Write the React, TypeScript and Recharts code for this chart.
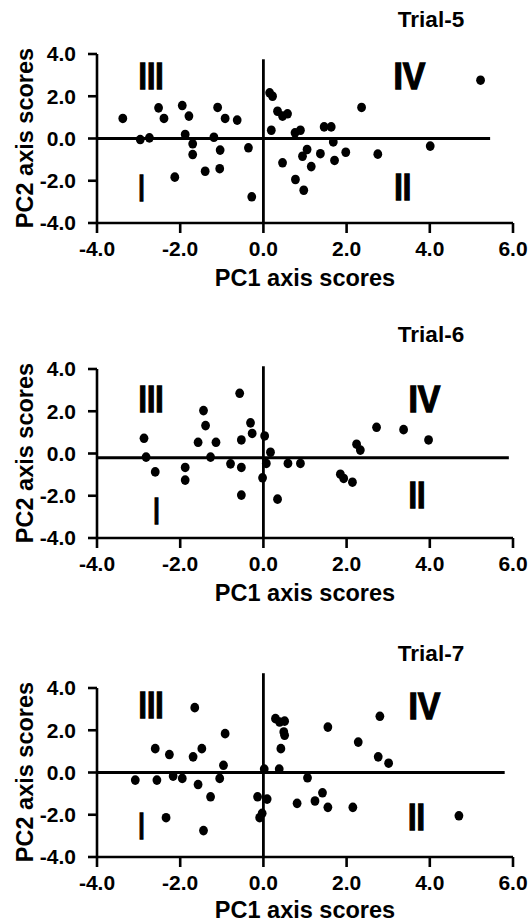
import React from 'react'
import { ScatterChart, Scatter, XAxis, YAxis, ReferenceLine, ReferenceDot } from 'recharts'

const xTicks = [-4, -2, 0, 2, 4, 6]
const yTicks = [-4, -2, 0, 2, 4]

const trial5 = [
  { x: -3.38, y: 0.95 }, { x: -2.96, y: -0.05 }, { x: -2.74, y: 0.03 }, { x: -2.52, y: 1.45 },
  { x: -2.39, y: 0.95 }, { x: -1.95, y: 1.56 }, { x: -1.79, y: 1.06 }, { x: -1.88, y: 0.19 },
  { x: -1.7, y: -0.25 }, { x: -1.7, y: -0.76 }, { x: -2.13, y: -1.83 }, { x: -1.4, y: -1.55 },
  { x: -1.1, y: 1.47 }, { x: -0.92, y: 0.95 }, { x: -1.19, y: 0.06 }, { x: -1.04, y: -0.55 },
  { x: -1.05, y: -1.43 }, { x: -0.63, y: 0.87 }, { x: -0.36, y: -0.44 }, { x: -0.28, y: -2.76 },
  { x: 0.15, y: 2.16 }, { x: 0.22, y: 2.0 }, { x: 0.34, y: 1.29 }, { x: 0.46, y: 1.06 },
  { x: 0.58, y: 1.17 }, { x: 0.19, y: 0.39 }, { x: 0.76, y: 0.27 }, { x: 0.89, y: 0.39 },
  { x: 0.46, y: -1.15 }, { x: 0.94, y: -0.84 }, { x: 1.05, y: -0.52 }, { x: 1.15, y: -1.33 },
  { x: 0.77, y: -1.94 }, { x: 0.97, y: -2.45 }, { x: 1.37, y: -0.72 }, { x: 1.46, y: 0.55 },
  { x: 1.63, y: 0.55 }, { x: 1.68, y: -0.16 }, { x: 1.71, y: -1.04 }, { x: 1.98, y: -0.65 },
  { x: 2.36, y: 1.47 }, { x: 2.75, y: -0.74 }, { x: 4.01, y: -0.36 }, { x: 5.22, y: 2.76 },
]

const trial6 = [
  { x: -2.87, y: 0.72 }, { x: -2.82, y: -0.17 }, { x: -2.6, y: -0.87 }, { x: -1.88, y: -0.66 },
  { x: -1.88, y: -1.26 }, { x: -1.44, y: 2.03 }, { x: -1.39, y: 1.32 }, { x: -1.57, y: 0.53 },
  { x: -1.14, y: 0.53 }, { x: -1.27, y: -0.17 }, { x: -0.79, y: -0.49 }, { x: -0.57, y: 2.85 },
  { x: -0.53, y: 0.64 }, { x: -0.53, y: -0.66 }, { x: -0.53, y: -1.97 }, { x: -0.31, y: 1.45 },
  { x: -0.27, y: 0.95 }, { x: 0.03, y: 0.83 }, { x: 0.17, y: 0.06 }, { x: 0.07, y: -0.47 },
  { x: -0.02, y: -1.15 }, { x: 0.34, y: -2.16 }, { x: 0.59, y: -0.47 }, { x: 0.89, y: -0.47 },
  { x: 1.85, y: -0.98 }, { x: 1.93, y: -1.18 }, { x: 2.14, y: -1.36 }, { x: 2.24, y: 0.44 },
  { x: 2.33, y: 0.16 }, { x: 2.72, y: 1.24 }, { x: 3.37, y: 1.13 }, { x: 3.97, y: 0.64 },
]

const trial7 = [
  { x: -3.08, y: -0.36 }, { x: -2.56, y: -0.36 }, { x: -2.6, y: 1.13 }, { x: -2.26, y: 0.85 },
  { x: -2.17, y: -0.17 }, { x: -1.95, y: -0.28 }, { x: -2.34, y: -2.14 }, { x: -1.65, y: 3.07 },
  { x: -1.69, y: 0.74 }, { x: -1.48, y: 1.13 }, { x: -1.57, y: -0.57 }, { x: -1.27, y: -1.15 },
  { x: -1.44, y: -2.75 }, { x: -0.92, y: 1.84 }, { x: -0.96, y: 0.34 }, { x: -1.05, y: -0.28 },
  { x: 0.02, y: 0.16 }, { x: -0.14, y: -1.15 }, { x: 0.09, y: -1.26 }, { x: -0.03, y: -1.93 },
  { x: -0.09, y: -2.14 }, { x: 0.29, y: 2.55 }, { x: 0.39, y: 2.39 }, { x: 0.51, y: 2.43 },
  { x: 0.49, y: 1.92 }, { x: 0.51, y: 1.76 }, { x: 0.42, y: 1.13 }, { x: 0.38, y: 0.16 },
  { x: 1.06, y: -0.25 }, { x: 0.81, y: -1.46 }, { x: 1.42, y: -0.96 }, { x: 1.24, y: -1.35 },
  { x: 1.55, y: -1.65 }, { x: 2.15, y: -1.65 }, { x: 1.55, y: 2.15 }, { x: 2.28, y: 1.44 },
  { x: 2.8, y: 2.66 }, { x: 2.76, y: 0.74 }, { x: 3.01, y: 0.44 }, { x: 4.7, y: -2.05 },
]

const FONT = '"Liberation Sans", Arial, Helvetica, sans-serif'

// quadrant label positions are in data units
const panels = [
  {
    title: 'Trial-5', data: trial5, top: 4.3, hY: 0, hEnd: 5.45, vTop: 3.75, titleY: 282,
    quads: [{ t: 'III', x: -2.7, y: 2.98 }, { t: 'I', x: -2.93, y: -2.32 }, { t: 'IV', x: 3.51, y: 2.96 }, { t: 'II', x: 3.35, y: -2.3 }],
  },
  {
    title: 'Trial-6', data: trial6, top: 319, hY: -0.2, hEnd: 5.9, vTop: 4.13, titleY: 282,
    quads: [{ t: 'III', x: -2.7, y: 2.57 }, { t: 'I', x: -2.57, y: -2.7 }, { t: 'IV', x: 3.87, y: 2.57 }, { t: 'II', x: 3.69, y: -1.95 }],
  },
  {
    title: 'Trial-7', data: trial7, top: 637.7, hY: 0, hEnd: 5.8, vTop: 4.7, titleY: 280,
    quads: [{ t: 'III', x: -2.7, y: 3.2 }, { t: 'I', x: -2.93, y: -2.53 }, { t: 'IV', x: 3.87, y: 3.15 }, { t: 'II', x: 3.68, y: -2.11 }],
  },
]

const romanWidth: Record<string, number> = { I: 6, II: 17, III: 25, IV: 32 }

const QuadLabel = (props: any) => {
  const { viewBox, text } = props
  const cx = viewBox.x + (viewBox.width || 0) / 2
  const cy = viewBox.y + (viewBox.height || 0) / 2
  return (
    <text
      x={cx}
      y={cy + 13}
      textAnchor="middle"
      fontFamily={FONT}
      fontWeight="bold"
      fontSize={37}
      fill="#000"
      stroke="#000"
      strokeWidth={1.3}
      textLength={romanWidth[text]}
      lengthAdjust="spacingAndGlyphs"
    >
      {text}
    </text>
  )
}

const DotShape = (props: any) => {
  const { cx, cy } = props
  return <ellipse cx={cx} cy={cy} rx={4.4} ry={4.8} fill="#000" />
}

const fmt = (v: number) => v.toFixed(1)

const tickStyle = { fill: '#000', fontSize: 21, fontWeight: 'bold', fontFamily: FONT }

function Panel({ p }: { p: (typeof panels)[number] }) {
  return (
    <div style={{ position: 'absolute', left: 0, top: p.top }}>
      <ScatterChart width={529} height={289} margin={{ top: 50, right: 16, left: 0, bottom: 0 }}>
        <XAxis
          type="number"
          dataKey="x"
          domain={[-4, 6]}
          ticks={xTicks}
          tickFormatter={fmt}
          allowDataOverflow
          height={70}
          stroke="#000"
          axisLine={{ stroke: '#000', strokeWidth: 2.6 }}
          tickLine={{ stroke: '#000', strokeWidth: 2.6 }}
          tickSize={10}
          tickMargin={8}
          tick={tickStyle}
        />
        <YAxis
          type="number"
          dataKey="y"
          domain={[-4, 4]}
          ticks={yTicks}
          tickFormatter={fmt}
          allowDataOverflow
          width={97}
          stroke="#000"
          axisLine={{ stroke: '#000', strokeWidth: 2.6 }}
          tickLine={{ stroke: '#000', strokeWidth: 2.6 }}
          tickSize={9}
          tickMargin={12}
          tick={tickStyle}
        />
        <ReferenceLine
          segment={[{ x: -4, y: p.hY }, { x: p.hEnd, y: p.hY }]}
          stroke="#000"
          strokeWidth={2.8}
          ifOverflow="visible"
        />
        <ReferenceLine
          segment={[{ x: 0, y: -4 }, { x: 0, y: p.vTop }]}
          stroke="#000"
          strokeWidth={2.8}
          ifOverflow="visible"
        />
        {p.quads.map((q) => (
          <ReferenceDot
            key={q.t}
            x={q.x}
            y={q.y}
            r={0}
            fill="none"
            stroke="none"
            ifOverflow="visible"
            label={<QuadLabel text={q.t} />}
          />
        ))}
        <Scatter data={p.data} fill="#000" shape={<DotShape />} isAnimationActive={false} />
        <text x={431} y={23} textAnchor="middle" fontFamily={FONT} fontWeight="bold" fontSize={22.5} fill="#000">
          {p.title}
        </text>
        <text x={305} y={p.titleY} textAnchor="middle" fontFamily={FONT} fontWeight="bold" fontSize={23.5} fill="#000">
          PC1 axis scores
        </text>
        <text
          x={33}
          y={134}
          transform="rotate(-90, 33, 134)"
          textAnchor="middle"
          fontFamily={FONT}
          fontWeight="bold"
          fontSize={23.5}
          fill="#000"
        >
          PC2 axis scores
        </text>
      </ScatterChart>
    </div>
  )
}

export default function App() {
  return (
    <div style={{ position: 'absolute', left: 0, top: 0, width: 529, height: 923, background: '#fff' }}>
      {panels.map((p) => (
        <Panel key={p.title} p={p} />
      ))}
    </div>
  )
}
